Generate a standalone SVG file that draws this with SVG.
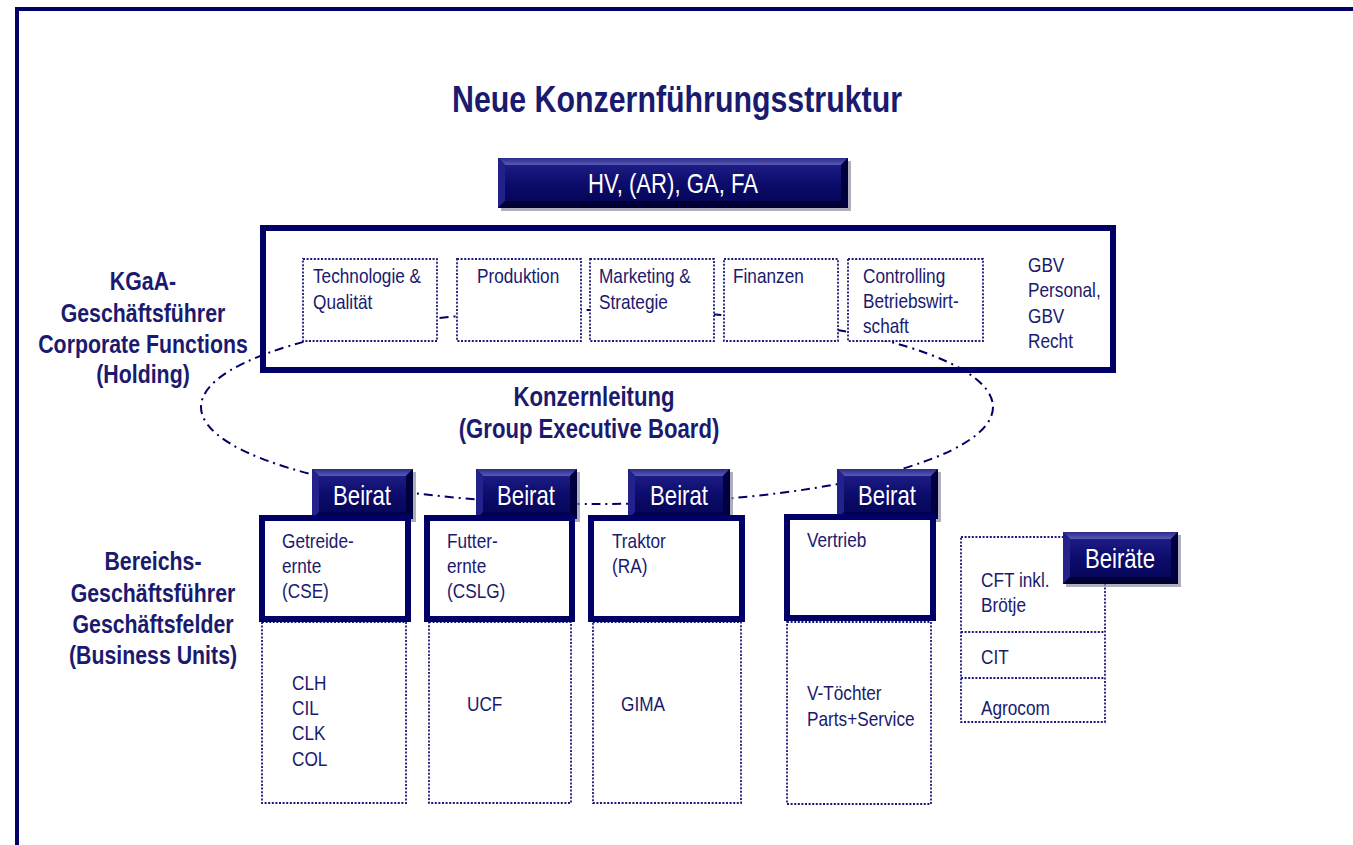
<svg xmlns="http://www.w3.org/2000/svg" width="1353" height="845" viewBox="0 0 1353 845">
  <defs>
    <linearGradient id="faceGrad" x1="0" y1="0" x2="0" y2="1">
      <stop offset="0" stop-color="#1c1c84"/>
      <stop offset="0.5" stop-color="#0c0c6c"/>
      <stop offset="1" stop-color="#06065a"/>
    </linearGradient>
    <linearGradient id="topBevel" x1="0" y1="0" x2="0" y2="1">
      <stop offset="0" stop-color="#2a2a8c"/>
      <stop offset="1" stop-color="#5a5ab4"/>
    </linearGradient>
  </defs>
  <style>
    .frame { fill: none; stroke: #000066; stroke-width: 4; }
    /* narrow lettering: Liberation Sans squeezed to Arial Narrow proportions */
    text { font-family: "Liberation Sans", Arial, sans-serif; }
    .txt { fill: #1a1a6e; }
    .title { font-size: 37px; font-weight: bold; }
    .lbl { font-size: 26px; font-weight: bold; }
    .kl { font-size: 27px; font-weight: bold; }
    .sm { font-size: 21px; }
    .btxt { fill: #ffffff; font-size: 27px; }
    .mid { text-anchor: middle; }
    .thick { fill: #ffffff; stroke: #000066; stroke-width: 6; }
    .bigbox { fill: none; stroke: #000066; stroke-width: 6; }
    .dotted { fill: #ffffff; stroke: #1a1a78; stroke-width: 1.8; stroke-dasharray: 2 1.6; }
    .dotline { fill: none; stroke: #1a1a78; stroke-width: 1.8; stroke-dasharray: 2 1.6; }
    .ring { fill: none; stroke: #000066; stroke-width: 2; stroke-dasharray: 9 5 2 5; }
    .shadow { fill: #8c8ca0; opacity: 0.7; }
    .base { fill: #00004e; }
    .bt { fill: url(#topBevel); }
    .bl { fill: #22228a; }
    .br { fill: #00003e; }
    .bb { fill: #000034; }
    .face { fill: url(#faceGrad); }
  </style>

  <rect width="1353" height="845" fill="#ffffff"/>

  <!-- page frame, running past the right and bottom edges -->
  <rect class="frame" x="17" y="9" width="1420" height="900"/>

  <text class="txt title mid" transform="translate(677 112) scale(0.82 1)">Neue Konzernführungsstruktur</text>

  <!-- top governing bodies -->
  <g id="hv">
    <rect class="shadow" x="501" y="161" width="350" height="50"/>
    <rect class="base" x="498" y="158" width="350" height="50"/>
    <polygon class="bt" points="498,158 848,158 841,165 505,165"/>
    <polygon class="bl" points="498,158 505,165 505,201 498,208"/>
    <polygon class="br" points="848,158 848,208 841,201 841,165"/>
    <polygon class="bb" points="498,208 505,201 841,201 848,208"/>
    <rect class="face" x="505" y="165" width="336" height="36"/>
    <text class="btxt mid" transform="translate(673 193) scale(0.82 1)">HV, (AR), GA, FA</text>
  </g>

  <!-- side labels -->
  <g id="label-holding" class="txt lbl mid">
    <text transform="translate(143 290) scale(0.82 1)">KGaA-</text>
    <text transform="translate(143 322) scale(0.82 1)">Geschäftsführer</text>
    <text transform="translate(143 353) scale(0.82 1)">Corporate Functions</text>
    <text transform="translate(143 383) scale(0.82 1)">(Holding)</text>
  </g>
  <g id="label-units" class="txt lbl mid">
    <text transform="translate(153 570) scale(0.82 1)">Bereichs-</text>
    <text transform="translate(153 602) scale(0.82 1)">Geschäftsführer</text>
    <text transform="translate(153 633) scale(0.82 1)">Geschäftsfelder</text>
    <text transform="translate(153 664) scale(0.82 1)">(Business Units)</text>
  </g>

  <!-- Konzernleitung outline -->
  <g id="connectors">
    <ellipse class="ring" cx="597" cy="407" rx="396" ry="97"/>
  </g>

  <!-- holding box with corporate functions -->
  <g id="holding">
    <rect class="bigbox" x="263" y="228" width="850" height="142"/>
  </g>
  <g id="technologie" class="txt sm">
    <rect class="dotted" x="303" y="259" width="134" height="82"/>
    <text transform="translate(313 283) scale(0.82 1)">Technologie &amp;</text>
    <text transform="translate(313 309) scale(0.82 1)">Qualität</text>
  </g>
  <g id="produktion" class="txt sm">
    <rect class="dotted" x="457" y="259" width="124" height="82"/>
    <text transform="translate(477 283) scale(0.82 1)">Produktion</text>
  </g>
  <g id="marketing" class="txt sm">
    <rect class="dotted" x="590" y="259" width="124" height="82"/>
    <text transform="translate(599 283) scale(0.82 1)">Marketing &amp;</text>
    <text transform="translate(599 309) scale(0.82 1)">Strategie</text>
  </g>
  <g id="finanzen" class="txt sm">
    <rect class="dotted" x="724" y="259" width="114" height="82"/>
    <text transform="translate(733 283) scale(0.82 1)">Finanzen</text>
  </g>
  <g id="controlling" class="txt sm">
    <rect class="dotted" x="848" y="259" width="135" height="82"/>
    <text transform="translate(863 283) scale(0.82 1)">Controlling</text>
    <text transform="translate(863 308) scale(0.82 1)">Betriebswirt-</text>
    <text transform="translate(863 333) scale(0.82 1)">schaft</text>
  </g>
  <g id="gbv" class="txt sm">
    <text transform="translate(1028 272) scale(0.82 1)">GBV</text>
    <text transform="translate(1028 297) scale(0.82 1)">Personal,</text>
    <text transform="translate(1028 323) scale(0.82 1)">GBV</text>
    <text transform="translate(1028 348) scale(0.82 1)">Recht</text>
  </g>

  <g id="konzernleitung" class="txt kl mid">
    <text transform="translate(594 406) scale(0.82 1)">Konzernleitung</text>
    <text transform="translate(589 438) scale(0.82 1)">(Group Executive Board)</text>
  </g>

  <!-- Beirat buttons -->
  <g id="beirat-cse">
    <rect class="shadow" x="315" y="472" width="101" height="50"/>
    <rect class="base" x="312" y="469" width="101" height="50"/>
    <polygon class="bt" points="312,469 413,469 406,476 319,476"/>
    <polygon class="bl" points="312,469 319,476 319,512 312,519"/>
    <polygon class="br" points="413,469 413,519 406,512 406,476"/>
    <rect class="face" x="319" y="476" width="87" height="36"/>
    <text class="btxt mid" transform="translate(362 505) scale(0.82 1)">Beirat</text>
  </g>
  <g id="beirat-cslg">
    <rect class="shadow" x="479" y="472" width="101" height="50"/>
    <rect class="base" x="476" y="469" width="101" height="50"/>
    <polygon class="bt" points="476,469 577,469 570,476 483,476"/>
    <polygon class="bl" points="476,469 483,476 483,512 476,519"/>
    <polygon class="br" points="577,469 577,519 570,512 570,476"/>
    <rect class="face" x="483" y="476" width="87" height="36"/>
    <text class="btxt mid" transform="translate(526 505) scale(0.82 1)">Beirat</text>
  </g>
  <g id="beirat-ra">
    <rect class="shadow" x="631" y="472" width="102" height="50"/>
    <rect class="base" x="628" y="469" width="102" height="50"/>
    <polygon class="bt" points="628,469 730,469 723,476 635,476"/>
    <polygon class="bl" points="628,469 635,476 635,512 628,519"/>
    <polygon class="br" points="730,469 730,519 723,512 723,476"/>
    <rect class="face" x="635" y="476" width="88" height="36"/>
    <text class="btxt mid" transform="translate(679 505) scale(0.82 1)">Beirat</text>
  </g>
  <g id="beirat-vertrieb">
    <rect class="shadow" x="840" y="472" width="101" height="50"/>
    <rect class="base" x="837" y="469" width="101" height="50"/>
    <polygon class="bt" points="837,469 938,469 931,476 844,476"/>
    <polygon class="bl" points="837,469 844,476 844,512 837,519"/>
    <polygon class="br" points="938,469 938,519 931,512 931,476"/>
    <rect class="face" x="844" y="476" width="87" height="36"/>
    <text class="btxt mid" transform="translate(887 505) scale(0.82 1)">Beirat</text>
  </g>

  <!-- business units -->
  <g id="getreideernte" class="txt sm">
    <rect class="dotted" x="262" y="622" width="144" height="181"/>
    <rect class="thick" x="262" y="518" width="146" height="101"/>
    <text transform="translate(282 548) scale(0.82 1)">Getreide-</text>
    <text transform="translate(282 573) scale(0.82 1)">ernte</text>
    <text transform="translate(282 598) scale(0.82 1)">(CSE)</text>
    <text transform="translate(292 690) scale(0.82 1)">CLH</text>
    <text transform="translate(292 715) scale(0.82 1)">CIL</text>
    <text transform="translate(292 740) scale(0.82 1)">CLK</text>
    <text transform="translate(292 766) scale(0.82 1)">COL</text>
  </g>
  <g id="futterernte" class="txt sm">
    <rect class="dotted" x="429" y="622" width="142" height="181"/>
    <rect class="thick" x="427" y="518" width="145" height="101"/>
    <text transform="translate(447 548) scale(0.82 1)">Futter-</text>
    <text transform="translate(447 573) scale(0.82 1)">ernte</text>
    <text transform="translate(447 598) scale(0.82 1)">(CSLG)</text>
    <text transform="translate(467 711) scale(0.82 1)">UCF</text>
  </g>
  <g id="traktor" class="txt sm">
    <rect class="dotted" x="593" y="622" width="148" height="181"/>
    <rect class="thick" x="591" y="518" width="151" height="101"/>
    <text transform="translate(612 548) scale(0.82 1)">Traktor</text>
    <text transform="translate(612 573) scale(0.82 1)">(RA)</text>
    <text transform="translate(621 711) scale(0.82 1)">GIMA</text>
  </g>
  <g id="vertrieb" class="txt sm">
    <rect class="dotted" x="787" y="622" width="144" height="182"/>
    <rect class="thick" x="787" y="517" width="146" height="101"/>
    <text transform="translate(807 547) scale(0.82 1)">Vertrieb</text>
    <text transform="translate(807 700) scale(0.82 1)">V-Töchter</text>
    <text transform="translate(807 726) scale(0.82 1)">Parts+Service</text>
  </g>

  <!-- further units with their advisory boards -->
  <g id="weitere" class="txt sm">
    <rect class="dotted" x="961" y="537" width="144" height="185"/>
    <line class="dotline" x1="961" y1="632" x2="1105" y2="632"/>
    <line class="dotline" x1="961" y1="678" x2="1105" y2="678"/>
    <text transform="translate(981 587) scale(0.82 1)">CFT inkl.</text>
    <text transform="translate(981 612) scale(0.82 1)">Brötje</text>
    <text transform="translate(981 664) scale(0.82 1)">CIT</text>
    <text transform="translate(981 715) scale(0.82 1)">Agrocom</text>
  </g>
  <g id="beiraete">
    <rect class="shadow" x="1066" y="535" width="115" height="52"/>
    <rect class="base" x="1063" y="532" width="115" height="52"/>
    <polygon class="bt" points="1063,532 1178,532 1171,539 1070,539"/>
    <polygon class="bl" points="1063,532 1070,539 1070,577 1063,584"/>
    <polygon class="br" points="1178,532 1178,584 1171,577 1171,539"/>
    <polygon class="bb" points="1063,584 1070,577 1171,577 1178,584"/>
    <rect class="face" x="1070" y="539" width="101" height="38"/>
    <text class="btxt mid" transform="translate(1120 568) scale(0.82 1)">Beiräte</text>
  </g>
</svg>
